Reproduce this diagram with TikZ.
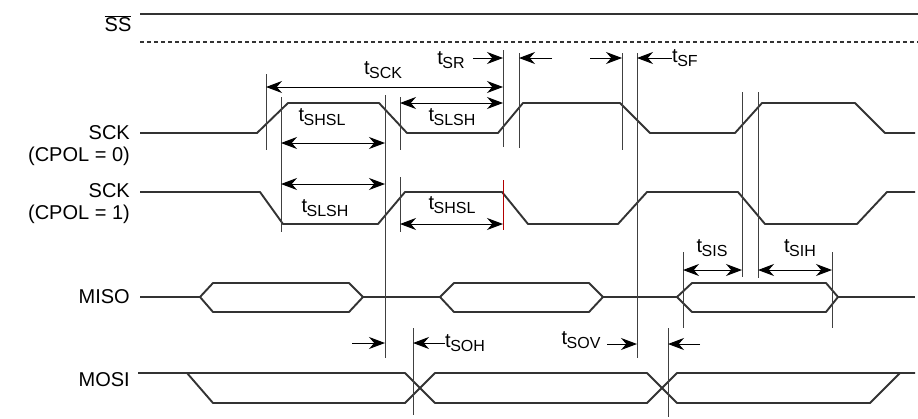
\documentclass[tikz,border=0pt]{standalone}
\usepackage{fontspec}
\setmainfont{Liberation Sans}
\usetikzlibrary{arrows.meta}
\newcommand{\tsub}[1]{t\kern-0.5pt\raisebox{-0.45ex}{\fontsize{16}{16}\selectfont #1}}
\begin{document}
\begin{tikzpicture}[x=1pt,y=-1pt,
  sig/.style={line width=1.9pt,line join=round,color=black!80},
  vl/.style={line width=0.9pt,color=black!75},
  ar/.style={line width=1pt,-{Stealth[length=16pt,width=12pt]}},
  dar/.style={line width=1pt,{Stealth[length=16pt,width=12pt]}-{Stealth[length=16pt,width=12pt]}},
  lab/.style={font=\fontsize{20}{22}\selectfont,inner sep=0pt},
  tl/.style={font=\fontsize{20}{22}\selectfont,inner sep=0pt}]
\useasboundingbox (0,0) rectangle (918,418);
% labels
\node[lab] (ss) at (118,24) {$\overline{\mbox{SS}}$};
\node[lab,anchor=east] (sck0) at (130,133) {SCK};
\node[lab,anchor=east] (cp0) at (130,156) {(CPOL = 0)};
\node[lab,anchor=east] (sck1) at (130,191) {SCK};
\node[lab,anchor=east] (cp1) at (130,214) {(CPOL = 1)};
\node[lab,anchor=east] (miso) at (130,297) {MISO};
\node[lab,anchor=east] (mosi) at (130,380) {MOSI};
% SS
\draw[sig] (140,14) -- (918,14);
\draw[sig,line width=1.4pt,dash pattern=on 4pt off 3pt] (140,42) -- (918,42);
% SCK0
\draw[sig] (140,133) -- (257,133) -- (288,103) -- (379,103) -- (407,133) -- (498,133) -- (523,103) -- (620,103) -- (650,133) -- (735,133) -- (762,103) -- (855,103) -- (885,133) -- (915,133);
% SCK1
\draw[sig] (140,192) -- (260,192) -- (283,224) -- (378,224) -- (405,192) -- (502,192) -- (528,224) -- (618,224) -- (647,192) -- (738,192) -- (765,224) -- (857,224) -- (887,192) -- (915,192);
% MISO
\draw[sig] (140,297) -- (200,297);
\draw[sig] (200,297) -- (213,283) -- (349,283) -- (363,297) -- (349,312) -- (213,312) -- cycle;
\draw[sig] (363,297) -- (440,297);
\draw[sig] (440,297) -- (454,283) -- (589,283) -- (603,297) -- (589,312) -- (454,312) -- cycle;
\draw[sig] (603,297) -- (677,297);
\draw[sig] (677,297) -- (692,283) -- (826,283) -- (838,297) -- (826,312) -- (692,312) -- cycle;
\draw[sig] (838,297) -- (915,297);
% MOSI
\draw[sig] (138,373) -- (405,373) -- (435,403) -- (647,403) -- (677,373) -- (915,373);
\draw[sig] (187,373) -- (213,403) -- (405,403) -- (435,373) -- (647,373) -- (677,403) -- (870,403) -- (900,373);
% vertical lines
\draw[vl] (266,74) -- (266,150);
\draw[vl] (281,97) -- (281,232);
\draw[vl] (385,95) -- (385,358);
\draw[vl] (400,97) -- (400,150);
\draw[vl] (400,177) -- (400,232);
\draw[vl] (503,50) -- (503,147);
\draw[vl,color=red!70!black] (503,180) -- (503,230);
\draw[vl] (519,53) -- (519,148);
\draw[vl] (622,53) -- (622,150);
\draw[vl] (637,53) -- (637,358);
\draw[vl] (742,92) -- (742,277);
\draw[vl] (758,92) -- (758,278);
\draw[vl] (683,252) -- (683,328);
\draw[vl] (832,252) -- (832,328);
\draw[vl] (668,328) -- (668,417);
\draw[vl] (413,328) -- (413,415);
% coordinates for arrows
\coordinate (a1) at (266,87); \coordinate (a2) at (503,87);
\coordinate (b1) at (400,103); \coordinate (b2) at (503,103);
\coordinate (c1) at (281,143); \coordinate (c2) at (385,143);
\coordinate (d1) at (281,184); \coordinate (d2) at (385,184);
\coordinate (e1) at (400,224); \coordinate (e2) at (503,224);
\coordinate (f1) at (683,270); \coordinate (f2) at (742,270);
\coordinate (g1) at (758,270); \coordinate (g2) at (832,270);
\draw[dar] (a1) -- (a2);
\draw[dar] (b1) -- (b2);
\draw[dar] (c1) -- (c2);
\draw[dar] (d1) -- (d2);
\draw[dar] (e1) -- (e2);
\draw[dar] (f1) -- (f2);
\draw[dar] (g1) -- (g2);
% single arrows
\coordinate (sr0) at (473,58); \coordinate (sr1) at (503,58);
\coordinate (sr2) at (552,58); \coordinate (sr3) at (519,58);
\coordinate (sr4) at (590,58); \coordinate (sr5) at (622,58);
\coordinate (sf0) at (672,58); \coordinate (sf1) at (637,58);
\coordinate (oh0) at (352,343); \coordinate (oh1) at (385,343);
\coordinate (oh2) at (445,343); \coordinate (oh3) at (413,343);
\coordinate (ov0) at (607,344); \coordinate (ov1) at (637,344);
\coordinate (ov2) at (700,344); \coordinate (ov3) at (668,344);
\draw[ar] (sr0) -- (sr1);
\draw[ar] (sr2) -- (sr3);
\draw[ar] (sr4) -- (sr5);
\draw[ar] (sf0) -- (sf1);
\draw[ar] (oh0) -- (oh1);
\draw[ar] (oh2) -- (oh3);
\draw[ar] (ov0) -- (ov1);
\draw[ar] (ov2) -- (ov3);
% timing labels
\node[tl] (tsck) at (383,70) {\tsub{SCK}};
\node[tl] (tsr) at (451,60) {\tsub{SR}};
\node[tl,anchor=west] (tsf) at (672,58) {\tsub{SF}};
\node[tl] (tshsl0) at (322,117) {\tsub{SHSL}};
\node[tl] (tslsh0) at (452,117) {\tsub{SLSH}};
\node[tl] (tslsh1) at (325,208) {\tsub{SLSH}};
\node[tl] (tshsl1) at (452,205) {\tsub{SHSL}};
\node[tl] (tsis) at (712,248) {\tsub{SIS}};
\node[tl] (tsih) at (800,248) {\tsub{SIH}};
\node[tl,anchor=west] (tsoh) at (445,343) {\tsub{SOH}};
\node[tl] (tsov) at (581,340) {\tsub{SOV}};
\end{tikzpicture}
\end{document}
